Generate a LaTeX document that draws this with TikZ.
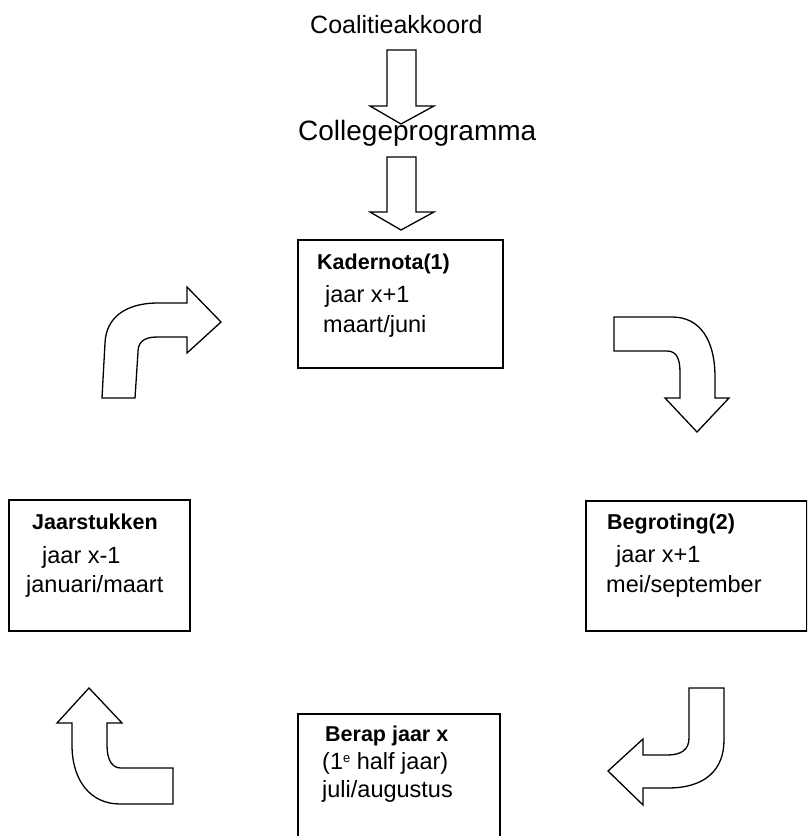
\documentclass[tikz,border=0pt]{standalone}
\usepackage{fontspec}
\setmainfont{Liberation Sans}
\begin{document}
\begin{tikzpicture}[x=1pt,y=-1pt,
  boxstyle/.style={draw, line width=1.5pt, rectangle, anchor=north west, inner sep=0pt},
  blockarrow/.style={draw, line width=1.3pt, fill=white, line join=miter},
  txt/.style={anchor=base west, inner sep=0pt, font=\fontsize{23.5}{27}\selectfont},
  ttl/.style={anchor=base west, inner sep=0pt, font=\fontsize{21.5}{25}\selectfont\bfseries},
  toptxt/.style={anchor=base west, inner sep=0pt}]
\useasboundingbox (0,0) rectangle (807,836);
\clip (0,0) rectangle (807,836);
\fill[white] (0,0) rectangle (807,836);

% top texts
\node[toptxt, font=\fontsize{25}{29}\selectfont] (coal) at (310,33) {Coalitieakkoord};
\node[toptxt, font=\fontsize{28}{32}\selectfont] (coll) at (298,140) {Collegeprogramma};

% straight block arrows
\draw[blockarrow] (387,50) -- (416,50) -- (416,106) -- (434,106) -- (401,124) -- (370,106) -- (387,106) -- cycle;
\draw[blockarrow] (387,157) -- (416,157) -- (416,212) -- (434,212) -- (401,230) -- (370,212) -- (387,212) -- cycle;

% boxes
\node[boxstyle, minimum width=205pt, minimum height=128pt] (kader) at (297,239) {};
\node[boxstyle, minimum width=181pt, minimum height=131pt] (jaar) at (8,499) {};
\node[boxstyle, minimum width=221pt, minimum height=130pt] (begr) at (585,500) {};
\node[boxstyle, minimum width=202pt, minimum height=150pt] (berap) at (297,713) {};

% Kadernota text
\node[ttl] (k1) at (317,269) {Kadernota(1)};
\node[txt] (k2) at (325,302) {jaar x+1};
\node[txt] (k3) at (323,332) {maart/juni};

% Jaarstukken text
\node[ttl] (j1) at (32,529) {Jaarstukken};
\node[txt] (j2) at (42,563) {jaar x-1};
\node[txt] (j3) at (26,592) {januari/maart};

% Begroting text
\node[ttl] (b1) at (607,529) {Begroting(2)};
\node[txt] (b2) at (616,562) {jaar x+1};
\node[txt] (b3) at (606,592) {mei/september};

% Berap text
\node[ttl] (r1) at (325,741) {Berap jaar x};
\node[txt] (r2) at (322,769) {(1\raisebox{7pt}{\fontsize{13}{13}\selectfont e} half jaar)};
\node[txt] (r3) at (322,797) {juli/augustus};

% curved block arrows
% top-left
\draw[blockarrow] (102,398) -- (105,343) .. controls (106,318) and (125,303) .. (158,303) -- (187,303) -- (187,287) -- (221,322) -- (187,353) -- (187,337) -- (157,337) .. controls (143,337) and (138,343) .. (138,352) -- (135,398) -- cycle;
% top-right
\draw[blockarrow] (614,317) -- (672,317) .. controls (700,317) and (715,340) .. (715,377) -- (715,398) -- (729,398) -- (697,432) -- (665,398) -- (680,398) -- (680,372) .. controls (680,358) and (676,351) .. (667,351) -- (614,351) -- cycle;
% bottom-right
\draw[blockarrow] (689,688) -- (724,688) -- (724,740) .. controls (724,770) and (705,788) .. (668,788) -- (643,788) -- (643,805) -- (608,771) -- (643,739) -- (643,755) -- (667,755) .. controls (681,755) and (689,750) .. (689,738) -- cycle;
% bottom-left
\draw[blockarrow] (89,688) -- (122,723) -- (107,723) -- (107,745) .. controls (107,760) and (112,768) .. (121,768) -- (173,768) -- (173,804) -- (120,804) .. controls (90,804) and (72,780) .. (72,745) -- (72,723) -- (57,723) -- cycle;
\end{tikzpicture}
\end{document}
